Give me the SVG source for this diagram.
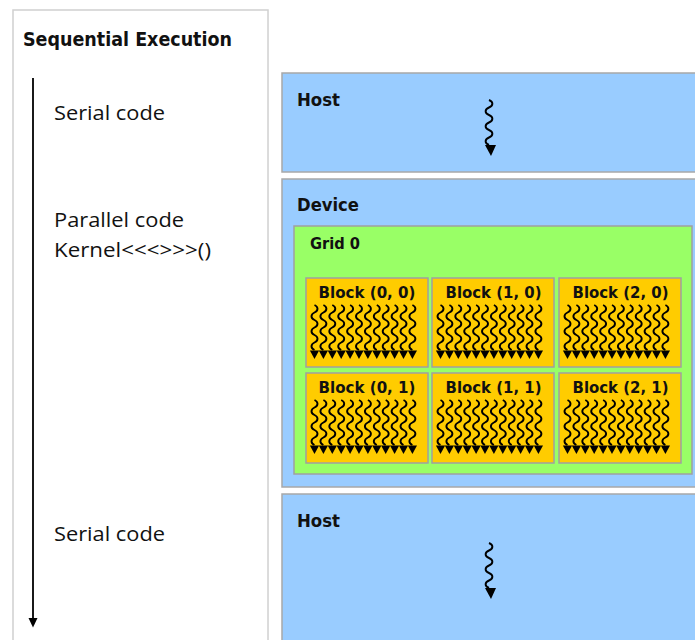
<svg xmlns="http://www.w3.org/2000/svg" xmlns:xlink="http://www.w3.org/1999/xlink" width="695" height="640" viewBox="0 0 695 640">
<style>
.host{fill:#99ccff;stroke:#a8a8a8;stroke-width:1.5}
.grid{fill:#99ff66;stroke:#a0a0a0;stroke-width:1.5}
.blk{fill:#ffcc00;stroke:#a0a0a0;stroke-width:1.5}
.panel{fill:#ffffff;stroke:#d0d0d0;stroke-width:1.5}
.hb{font-family:"DejaVu Sans",Verdana,sans-serif;font-weight:bold;fill:#111}
.reg{font-family:"Open Sans","Noto Sans",sans-serif;font-size:20.5px;fill:#111}
.wave{fill:none;stroke:#000;stroke-width:1.9}
.ah{fill:#000}
</style>
<defs>
<path id="w" class="wave" d="M0,0 c4,1.8 4,5.7 0,7.5 c-4,1.8 -4,5.7 0,7.5 c4,1.8 4,5.7 0,7.5 c-4,1.8 -4,5.7 0,7.5 c4,1.8 4,5.7 0,7.5 c-4,1.8 -4,5.7 0,7.5"/>
<polygon id="a" class="ah" points="-4.6,0 4.6,0 0,8.5"/>
<g id="threads">
<use xlink:href="#w" x="8.5" y="27"/><use xlink:href="#a" x="8.5" y="72.5"/>
<use xlink:href="#w" x="17.4" y="27"/><use xlink:href="#a" x="17.4" y="72.5"/>
<use xlink:href="#w" x="26.3" y="27"/><use xlink:href="#a" x="26.3" y="72.5"/>
<use xlink:href="#w" x="35.2" y="27"/><use xlink:href="#a" x="35.2" y="72.5"/>
<use xlink:href="#w" x="44.1" y="27"/><use xlink:href="#a" x="44.1" y="72.5"/>
<use xlink:href="#w" x="53" y="27"/><use xlink:href="#a" x="53" y="72.5"/>
<use xlink:href="#w" x="61.9" y="27"/><use xlink:href="#a" x="61.9" y="72.5"/>
<use xlink:href="#w" x="70.8" y="27"/><use xlink:href="#a" x="70.8" y="72.5"/>
<use xlink:href="#w" x="79.7" y="27"/><use xlink:href="#a" x="79.7" y="72.5"/>
<use xlink:href="#w" x="88.6" y="27"/><use xlink:href="#a" x="88.6" y="72.5"/>
<use xlink:href="#w" x="97.5" y="27"/><use xlink:href="#a" x="97.5" y="72.5"/>
<use xlink:href="#w" x="106.4" y="27"/><use xlink:href="#a" x="106.4" y="72.5"/>
</g>
<path id="hw" class="wave" d="M0,0 c4.5,1.8 4.5,5.7 0,7.5 c-4.5,1.8 -4.5,5.7 0,7.5 c4.5,1.8 4.5,5.7 0,7.5 c-4.5,1.8 -4.5,5.7 0,7.5 c4.5,1.8 4.5,5.7 0,7.5 c-4.5,1.8 -4.5,5.7 0,7.5"/>
</defs>
<rect width="695" height="640" fill="#ffffff"/>

<g id="sequential">
<rect class="panel" x="13" y="10" width="255" height="645"/>
<text class="hb" x="23" y="46" font-size="19" textLength="209" lengthAdjust="spacingAndGlyphs">Sequential Execution</text>
<text class="reg" x="54" y="120" textLength="111" lengthAdjust="spacingAndGlyphs">Serial code</text>
<text class="reg" x="54" y="227" textLength="130" lengthAdjust="spacingAndGlyphs">Parallel code</text>
<text class="reg" x="54" y="257" textLength="157" lengthAdjust="spacingAndGlyphs">Kernel&lt;&lt;&lt;&gt;&gt;&gt;()</text>
<text class="reg" x="54" y="541" textLength="111" lengthAdjust="spacingAndGlyphs">Serial code</text>
</g>

<g id="host1">
<rect class="host" x="282" y="73" width="420" height="99"/>
<text class="hb" x="297" y="106" font-size="17.5" textLength="43" lengthAdjust="spacingAndGlyphs">Host</text>
<use xlink:href="#hw" x="489" y="100"/>
<polygon class="ah" points="485,145 496,145 491,156"/>
</g>

<g id="device">
<rect class="host" x="282" y="179" width="420" height="308"/>
<text class="hb" x="297" y="211" font-size="17.5" textLength="62" lengthAdjust="spacingAndGlyphs">Device</text>
</g>

<g id="grid0">
<rect class="grid" x="294" y="226" width="398" height="248"/>
<text class="hb" x="310" y="249" font-size="15" textLength="50" lengthAdjust="spacingAndGlyphs">Grid 0</text>
</g>

<g id="block00">
<rect class="blk" x="306" y="278" width="122" height="89"/>
<text class="hb" x="367" y="298" font-size="15.5" text-anchor="middle" textLength="97" lengthAdjust="spacingAndGlyphs">Block (0, 0)</text>
<use xlink:href="#threads" x="306" y="278"/>
</g>
<g id="block10">
<rect class="blk" x="432" y="278" width="122" height="89"/>
<text class="hb" x="493.5" y="298" font-size="15.5" text-anchor="middle" textLength="96" lengthAdjust="spacingAndGlyphs">Block (1, 0)</text>
<use xlink:href="#threads" x="432" y="278"/>
</g>
<g id="block20">
<rect class="blk" x="559" y="278" width="122" height="89"/>
<text class="hb" x="620.5" y="298" font-size="15.5" text-anchor="middle" textLength="96" lengthAdjust="spacingAndGlyphs">Block (2, 0)</text>
<use xlink:href="#threads" x="559" y="278"/>
</g>
<g id="block01">
<rect class="blk" x="306" y="373" width="122" height="90"/>
<text class="hb" x="367" y="393" font-size="15.5" text-anchor="middle" textLength="97" lengthAdjust="spacingAndGlyphs">Block (0, 1)</text>
<use xlink:href="#threads" x="306" y="373"/>
</g>
<g id="block11">
<rect class="blk" x="432" y="373" width="122" height="90"/>
<text class="hb" x="493.5" y="393" font-size="15.5" text-anchor="middle" textLength="96" lengthAdjust="spacingAndGlyphs">Block (1, 1)</text>
<use xlink:href="#threads" x="432" y="373"/>
</g>
<g id="block21">
<rect class="blk" x="559" y="373" width="122" height="90"/>
<text class="hb" x="620.5" y="393" font-size="15.5" text-anchor="middle" textLength="96" lengthAdjust="spacingAndGlyphs">Block (2, 1)</text>
<use xlink:href="#threads" x="559" y="373"/>
</g>

<g id="host2">
<rect class="host" x="282" y="494" width="420" height="160"/>
<text class="hb" x="297" y="527" font-size="17.5" textLength="43" lengthAdjust="spacingAndGlyphs">Host</text>
<use xlink:href="#hw" x="489" y="543"/>
<polygon class="ah" points="485,588 496,588 491,599"/>
</g>

<g id="connectors">
<line x1="33" y1="78" x2="33" y2="620" stroke="#000" stroke-width="1.8"/>
<polygon class="ah" points="28.5,618 37.5,618 33,627.5"/>
</g>
</svg>
